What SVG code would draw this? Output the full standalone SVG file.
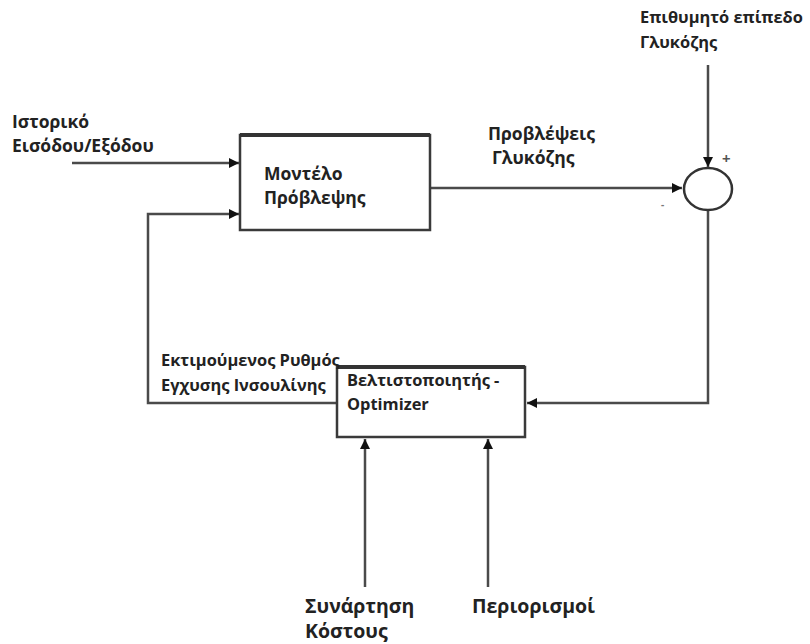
<svg xmlns="http://www.w3.org/2000/svg" width="810" height="644" viewBox="0 0 810 644">
<style>
.t{font-family:"Open Sans","Liberation Sans",sans-serif;font-weight:bold;font-size:16.4px;fill:#222}
.l{font-size:17.5px}
.big{font-size:19.5px}
.box{fill:#fff;stroke:#3a3a3a;stroke-width:2.5}
.ln{fill:none;stroke:#4a4a4a;stroke-width:2.5}
</style>
<defs>
<marker id="ah" viewBox="0 0 10 10" refX="10" refY="5" markerWidth="5" markerHeight="4" orient="auto" markerUnits="strokeWidth">
<path d="M0,0 L10,5 L0,10 z" fill="#111"/>
</marker>
</defs>
<rect width="810" height="644" fill="#fff"/>
<g id="connectors">
<line class="ln" x1="72" y1="163" x2="239" y2="163" marker-end="url(#ah)"/>
<polyline class="ln" points="337,403 148,403 148,214 239,214" marker-end="url(#ah)"/>
<line class="ln" x1="431" y1="188" x2="682" y2="188" marker-end="url(#ah)"/>
<line class="ln" x1="708" y1="65" x2="708" y2="167" marker-end="url(#ah)"/>
<polyline class="ln" points="708,210 708,403 527,403" marker-end="url(#ah)"/>
<line class="ln" x1="365" y1="587" x2="365" y2="439" marker-end="url(#ah)"/>
<line class="ln" x1="488" y1="587" x2="488" y2="439" marker-end="url(#ah)"/>
</g>
<g id="model">
<rect class="box" x="240" y="135" width="190" height="95"/>
<path d="M240,135 H430" stroke="#333" stroke-width="4"/>
<text class="t l" x="264" y="180">Μοντέλο</text>
<text class="t l" x="264" y="204">Πρόβλεψης</text>
</g>
<g id="sum">
<ellipse cx="708" cy="189" rx="24" ry="21" fill="#fff" stroke="#333" stroke-width="2.5"/>
<text class="t" x="722" y="164" style="font-size:15px;fill:#555">+</text>
<text class="t" x="661" y="208" style="font-size:10px;fill:#777">-</text>
</g>
<g id="optimizer">
<rect class="box" x="337" y="367" width="188" height="70"/>
<path d="M337,367 H525" stroke="#333" stroke-width="4"/>
<text class="t" x="347" y="386">Βελτιστοποιητής -</text>
<text class="t" x="347" y="410">Optimizer</text>
</g>
<g id="labels">
<text class="t l" x="12" y="128">Ιστορικό</text>
<text class="t l" x="12" y="152">Εισόδου/Εξόδου</text>
<text class="t l" x="488" y="140">Προβλέψεις</text>
<text class="t l" x="492" y="164">Γλυκόζης</text>
<text class="t" x="640" y="23">Επιθυμητό επίπεδο</text>
<text class="t" x="640" y="48">Γλυκόζης</text>
<text class="t" x="161" y="366">Εκτιμούμενος Ρυθμός</text>
<text class="t" x="161" y="391">Εγχυσης Ινσουλίνης</text>
<text class="t big" x="305" y="613">Συνάρτηση</text>
<text class="t big" x="305" y="638">Κόστους</text>
<text class="t big" x="472" y="613">Περιορισμοί</text>
</g>
</svg>
